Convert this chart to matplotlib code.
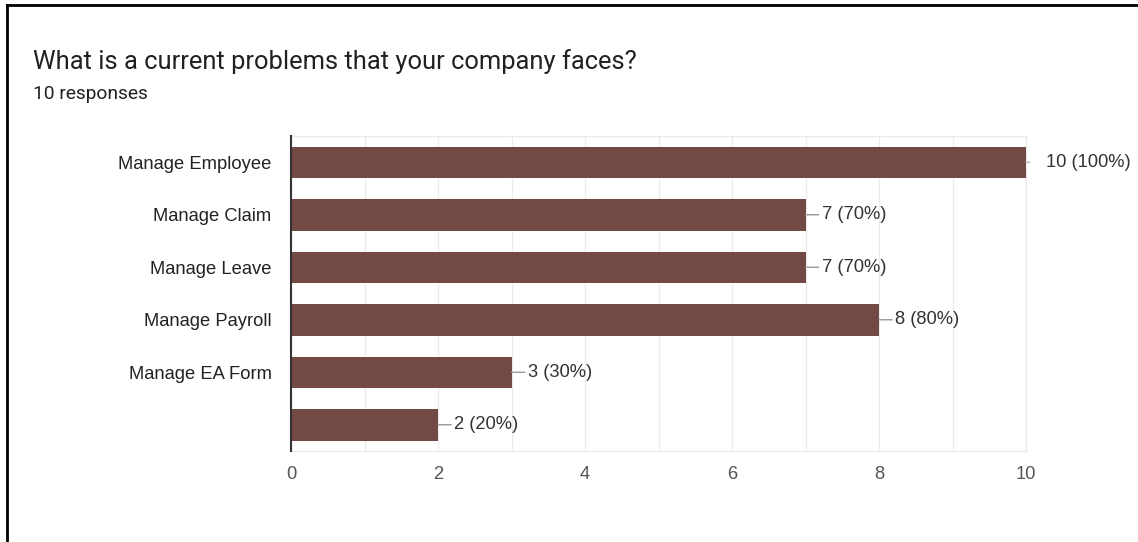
import matplotlib
matplotlib.use("Agg")
import matplotlib.pyplot as plt
from matplotlib.lines import Line2D

categories = ["Manage Employee", "Manage Claim", "Manage Leave",
              "Manage Payroll", "Manage EA Form", ""]
counts = [10, 7, 7, 8, 3, 2]
total_responses = 10
x_ticks = [0, 2, 4, 6, 8, 10]
title = "What is a current problems that your company faces?"
subtitle = "10 responses"

W, H, DPI = 1138, 542, 100
fig = plt.figure(figsize=(W / DPI, H / DPI), dpi=DPI)
fig.patch.set_facecolor("white")

# border (left and top only)
fig.add_artist(Line2D([6.5 / W, 6.5 / W], [0, 1 - 4.5 / H], transform=fig.transFigure,
                      color="black", lw=2))
fig.add_artist(Line2D([6.5 / W, 1], [1 - 4.5 / H, 1 - 4.5 / H], transform=fig.transFigure,
                      color="black", lw=2))

fig.text(33 / W, 1 - 69 / H, title, fontsize=18.4, family="Roboto", color="#202124",
         va="baseline", ha="left")
fig.text(33 / W, 1 - 99 / H, subtitle, fontsize=13.8, family="Roboto", color="#202124",
         va="baseline", ha="left")

left, right, top, bottom = 291, 1026, 136, 451
ax = fig.add_axes([left / W, 1 - bottom / H, (right - left) / W, (bottom - top) / H])

bar_color = "#734945"
ypos = list(range(len(categories)))
ax.barh(ypos, counts, height=0.6, color=bar_color, zorder=3)

fs = 13.2
ax.set_xlim(0, 10)
ax.set_ylim(len(categories) - 0.5, -0.5)
ax.set_yticks(ypos)
ax.set_yticklabels(categories, family="Liberation Sans", fontsize=fs, color="#222222")
ax.set_xticks(x_ticks)
ax.set_xticklabels([str(t) for t in x_ticks], family="Liberation Sans", fontsize=fs,
                   color="#555555")
ax.set_xticks(range(0, 11), minor=True)
ax.tick_params(axis="y", length=0, pad=14)
ax.tick_params(axis="x", which="both", length=0, pad=11)
ax.grid(axis="x", which="both", color="#ebebeb", lw=1, zorder=0)
ax.set_axisbelow(True)

for s in ["top", "right", "bottom"]:
    ax.spines[s].set_color("#ebebeb")
    ax.spines[s].set_linewidth(1)
ax.spines["left"].set_color("#333333")
ax.spines["left"].set_linewidth(1.5)
ax.spines["left"].set_zorder(5)

maxv = max(counts)
for y, v in zip(ypos, counts):
    label = f"{v} ({round(100 * v / total_responses)}%)"
    if v == maxv:
        ax.annotate("", xy=(v, y), xytext=(4, 0), textcoords="offset pixels",
                    arrowprops=dict(arrowstyle="-", color="#bbbbbb", lw=1,
                                    shrinkA=0, shrinkB=0))
        ax.annotate(label, xy=(v, y), xytext=(20, 0), textcoords="offset pixels",
                    va="center", ha="left", fontsize=fs, family="Liberation Sans",
                    color="#333333")
    else:
        ax.annotate(label, xy=(v, y), xytext=(16, 0), textcoords="offset pixels",
                    va="center", ha="left", fontsize=fs, family="Liberation Sans",
                    color="#333333",
                    arrowprops=dict(arrowstyle="-", color="#999999", lw=1,
                                    shrinkA=0, shrinkB=0))

fig.savefig("out.png", dpi=DPI, facecolor="white")
